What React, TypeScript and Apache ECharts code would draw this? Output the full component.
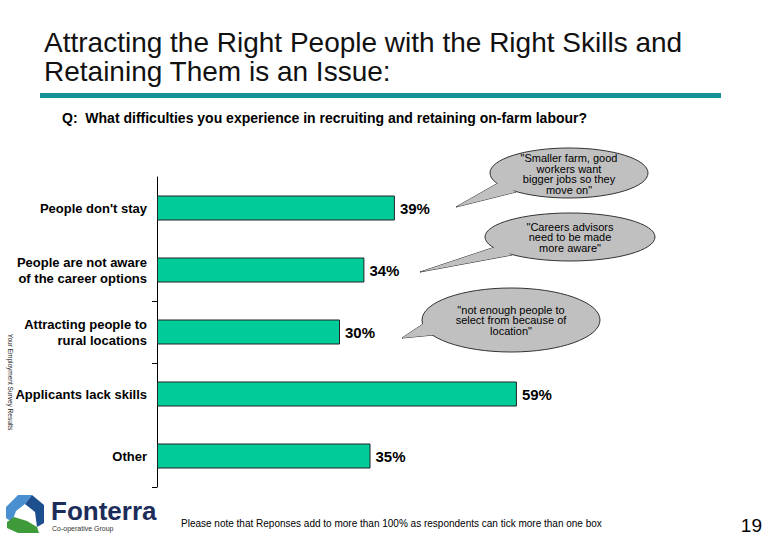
import React, { useEffect, useRef } from "react";
import * as echarts from "echarts";

const categories = [
  "People don't stay",
  "People are not aware\nof the career options",
  "Attracting people to\nrural locations",
  "Applicants lack skills",
  "Other",
];
const values = [39, 34, 30, 59, 35];
const titleLines = ["Attracting the Right People with the Right Skills and", "Retaining Them is an Issue:"];
const question = "Q:  What difficulties you experience in recruiting and retaining on-farm labour?";
const quote1 = ["\"Smaller farm, good", "workers want", "bigger jobs so they", "move on\""];
const quote2 = ["\"Careers advisors", "need to be made", "more aware\""];
const quote3 = ["\"not enough people to", "select from because of", "location\""];
const footnote = "Please note that Reponses add to more than 100% as respondents can tick more than one box";
const pageNumber = "19";
const sideNote = "Your Employment Survey Results";

const FONT = "'Liberation Sans', Arial, sans-serif";
const BUBBLE_FILL = "#c0c0c0";
const BUBBLE_STROKE = "#333";

function bubble(
  cx: number, cy: number, rx: number, ry: number,
  tail: number[][], lines: string[], textCy: number
) {
  const els: any[] = [];
  els.push({ type: "polygon", shape: { points: tail }, style: { fill: BUBBLE_FILL, stroke: BUBBLE_STROKE, lineWidth: 1 } });
  els.push({ type: "ellipse", shape: { cx, cy, rx, ry }, style: { fill: BUBBLE_FILL, stroke: BUBBLE_STROKE, lineWidth: 1 } });
  els.push({ type: "polygon", shape: { points: tail }, style: { fill: BUBBLE_FILL, stroke: null } });
  els.push({
    type: "text", x: cx, y: textCy,
    style: { text: lines.join("\n"), font: `11px ${FONT}`, fill: "#000", align: "center", verticalAlign: "middle", lineHeight: 10.5 },
  });
  return els;
}

export default function App() {
  const ref = useRef<HTMLDivElement>(null);
  useEffect(() => {
    if (!ref.current) return;
    const chart = echarts.init(ref.current, undefined, { renderer: "svg" });
    const graphic: any[] = [
      {
        type: "text", x: 44, y: 28,
        style: { text: titleLines.join("\n"), font: `28px ${FONT}`, fill: "#111", lineHeight: 29 },
      },
      { type: "rect", shape: { x: 40, y: 93, width: 681, height: 5 }, style: { fill: "#139393" } },
      {
        type: "text", x: 62, y: 118,
        style: { text: question, font: `bold 14px ${FONT}`, fill: "#000", verticalAlign: "middle" },
      },
      ...bubble(569, 173, 79, 25, [[500, 182], [456, 207], [516, 192]], quote1, 174),
      ...bubble(570, 237, 85, 24, [[498, 246], [420, 272], [512, 255]], quote2, 237),
      ...bubble(511, 320, 89, 32, [[432, 318], [402, 338], [444, 334]], quote3, 320),
      {
        type: "text", x: 10, y: 382, rotation: -Math.PI / 2,
        style: { text: sideNote, font: `6.5px ${FONT}`, fill: "#222", align: "center", verticalAlign: "middle" },
      },
      // logo
      { type: "polygon", shape: { points: [[6, 507], [18, 495], [32, 495], [25, 504], [16, 511], [12, 522], [6, 518]] }, style: { fill: "#4a8fd0" } },
      { type: "polygon", shape: { points: [[32, 495], [44, 505], [44, 523], [37, 527], [35, 512], [25, 504]] }, style: { fill: "#1d4f8f" } },
      { type: "polygon", shape: { points: [[7, 522], [14, 517], [27, 521], [37, 527], [39, 533], [18, 533], [7, 528]] }, style: { fill: "#3f9a3a" } },
      {
        type: "text", x: 51, y: 511,
        style: { text: "Fonterra", font: `bold 26px ${FONT}`, fill: "#1c2d5a", verticalAlign: "middle" },
      },
      {
        type: "text", x: 52, y: 528,
        style: { text: "Co-operative Group", font: `7px ${FONT}`, fill: "#333", verticalAlign: "middle" },
      },
      {
        type: "text", x: 181, y: 523,
        style: { text: footnote, font: `10px ${FONT}`, fill: "#000", verticalAlign: "middle" },
      },
      {
        type: "text", x: 762, y: 525,
        style: { text: pageNumber, font: `19px ${FONT}`, fill: "#000", align: "right", verticalAlign: "middle" },
      },
    ];
    chart.setOption({
      animation: false,
      backgroundColor: "#fff",
      grid: { left: 157, top: 177, width: 610, height: 310, containLabel: false },
      xAxis: { type: "value", min: 0, max: 100, show: false },
      yAxis: {
        type: "category",
        data: categories,
        inverse: true,
        axisLine: { show: true, lineStyle: { color: "#000", width: 1 } },
        axisTick: { show: true, length: 5, lineStyle: { color: "#000" }, interval: (i: number) => i === 2 || i === 3 },
        axisLabel: { margin: 10, fontFamily: FONT, fontWeight: "bold", fontSize: 13, color: "#000", lineHeight: 16, align: "right" },
        splitLine: { show: false },
      },
      series: [
        {
          type: "bar",
          data: values,
          barWidth: 25,
          itemStyle: { color: "#00cc99", borderColor: "#222", borderWidth: 1 },
          label: { show: true, position: "right", distance: 5, formatter: "{c}%", fontFamily: FONT, fontWeight: "bold", fontSize: 15, color: "#000" },
        },
      ],
      graphic,
    });
    return () => chart.dispose();
  }, []);
  return <div ref={ref} style={{ position: "fixed", left: 0, top: 0, width: 780, height: 540 }} />;
}
